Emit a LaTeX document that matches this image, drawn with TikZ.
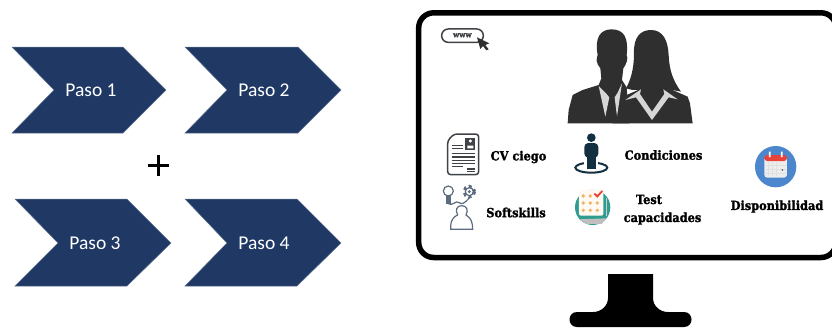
\documentclass[tikz,border=0pt]{standalone}
\usepackage{fontspec}
\setmainfont{Carlito}
\newfontfamily\slab{DejaVu Serif}[FakeStretch=0.9,BoldFeatures={FakeBold=1.6}]
\definecolor{navy}{HTML}{1F3864}
\definecolor{sil}{HTML}{2F2F2F}
\definecolor{sillight}{HTML}{D6D6D6}
\definecolor{icon}{HTML}{3F4347}
\definecolor{ink}{HTML}{12303F}
\definecolor{softi}{HTML}{5D6B80}
\definecolor{teal}{HTML}{2E9C8E}
\definecolor{calblue}{HTML}{4C86CC}
\definecolor{calred}{HTML}{E8423A}
\definecolor{tan}{HTML}{F2B45F}
\tikzset{
  chev/.style={fill=navy,draw=navy!70!white,line width=.5pt},
  pasolabel/.style={text=white,font=\fontsize{19.5}{22}\selectfont,inner sep=0pt},
  lab/.style={font=\slab\bfseries\fontsize{12.6}{14}\selectfont,inner sep=0pt,text=black,align=center},
  zoomA/.style={shift={(416,0)},x=.3333pt,y=-.3333pt},
  zoomB/.style={shift={(430,125)},x=.3333pt,y=-.3333pt},
  zoomC/.style={shift={(630,125)},x=.3333pt,y=-.3333pt},
}
\begin{document}
\begin{tikzpicture}[x=1pt,y=-1pt]
\useasboundingbox (0,0) rectangle (832,327);
% chevrons
\draw[chev] (12,47) -- (123,47) -- (166,90) -- (123,133) -- (12,133) -- (54,90) -- cycle;
\draw[chev] (185,47) -- (298,47) -- (341,90) -- (298,133) -- (185,133) -- (227,90) -- cycle;
\draw[chev] (15,199) -- (127,199) -- (171,243) -- (127,286) -- (15,286) -- (58,243) -- cycle;
\draw[chev] (185,199) -- (297,199) -- (341,243) -- (297,286) -- (185,286) -- (227,243) -- cycle;
\node[pasolabel] (p1) at (91,90.5) {Paso 1};
\node[pasolabel] (p2) at (264,90.5) {Paso 2};
\node[pasolabel] (p3) at (95,243) {Paso 3};
\node[pasolabel] (p4) at (264,243) {Paso 4};
% plus
\draw[line width=2.4pt,black] (148,165.5) -- (169,165.5) (158.5,155) -- (158.5,176);
% monitor
\begin{scope}
\clip (0,0) rectangle (832,327);
\draw[line width=5.5pt,black,rounded corners=15pt] (418.7,12.8) rectangle (836,257.5);
\end{scope}
% stand
\fill[black] (608,274) -- (653,274) -- (653,298) .. controls (653,306) and (660,312) .. (668,312)
  -- (684,312) .. controls (694,312) and (694,327) .. (684,327) -- (577,327)
  .. controls (567,327) and (567,312) .. (577,312) -- (593,312)
  .. controls (601,312) and (608,306) .. (608,298) -- cycle;
% people
\begin{scope}[zoomA]
 \fill[sil] (455,370) -- (458,330) -- (470,285) -- (500,270) -- (548,255) -- (556,235) -- (553,205)
   .. controls (540,190) and (540,175) .. (545,165)
   .. controls (535,110) and (555,88) .. (587,88)
   .. controls (625,88) and (638,115) .. (632,165)
   .. controls (638,175) and (630,195) .. (622,205) -- (618,240) -- (632,262) -- (640,370) -- cycle;
 \fill[sil] (590,370) -- (605,310) -- (632,285) -- (700,255) -- (770,270) -- (815,290) -- (822,310) -- (830,370) -- cycle;
 \fill[sil] (630,265) .. controls (650,230) and (654,190) .. (654,160)
   .. controls (652,110) and (675,90) .. (705,90)
   .. controls (740,90) and (756,120) .. (758,165)
   .. controls (760,210) and (770,240) .. (795,275) -- (770,270) -- (650,270) -- cycle;
 \fill[sillight] (548,258) -- (568,350) -- (580,292) -- (570,280) -- cycle;
 \fill[sillight] (618,250) -- (603,350) -- (596,292) -- (605,278) -- cycle;
 \fill[sil] (578,285) -- (595,285) -- (592,300) -- (602,350) -- (587,362) -- (573,350) -- (584,300) -- cycle;
 \fill[sillight] (628,300) -- (675,268) -- (672,282) -- (708,335) -- (745,282) -- (742,268) -- (785,298) -- (758,292) -- (708,360) -- (660,292) -- cycle;
 \draw[icon,line width=1.5pt,fill=white,rounded corners=6.5pt] (77,87) rectangle (202,127);
 \node[inner sep=0pt,font=\slab\bfseries\fontsize{8}{9}\selectfont,text=icon] (www) at (139,106) {www};
 \fill[sil] (183,112) -- (220,130) -- (208,135) -- (218,148) -- (211,151) -- (201,138) -- (193,147) -- cycle;
\end{scope}
% CV icon, person, softskills, test
\begin{scope}[zoomB]
 \draw[icon,line width=1.5pt,fill=white,rounded corners=3pt] (72,27) -- (146,27) -- (146,149) -- (53,149) -- (53,47) -- cycle;
 \fill[icon] (106,38) rectangle (136,74);
 \fill[white] (121,48) circle[radius=5] (112,70) rectangle (130,62);
 \draw[icon,line width=.9pt] (65,60) -- (98,60) (65,70) -- (98,70);
 \draw[icon,line width=1.5pt] (65,86) -- (136,86) (65,96) -- (136,96) (65,106) -- (136,106) (65,116) -- (136,116) (65,124) -- (100,124) (112,132) -- (136,132) (112,139) -- (136,139);
 % person on ring
 \draw[ink,line width=2pt] (484,128) ellipse[x radius=48,y radius=15];
 \fill[white] (463,105) rectangle (505,130);
 \fill[ink] (484,38) circle[radius=13];
 \fill[ink,rounded corners=4pt] (463,54) rectangle (505,98);
 \fill[ink] (470,90) rectangle (498,132);
 % softskills
 \begin{scope}[softi,line width=1.2pt]
  \draw (55,198) circle[radius=15];
  \draw (118,200) circle[radius=12];
  \fill[softi] (118,200) circle[radius=5];
  \draw[dash pattern=on 3pt off 3pt,line width=3pt] (118,200) circle[radius=16];
  \draw[fill=softi] (50,212) rectangle (60,234);
  \draw (55,236) .. controls (65,245) and (80,225) .. (85,232) .. controls (95,240) and (105,235) .. (118,218);
  \draw (95,242) .. controls (80,242) and (75,255) .. (83,270) .. controls (60,280) and (62,300) .. (62,313) -- (128,313) .. controls (128,295) and (125,280) .. (108,270) .. controls (116,255) and (110,242) .. (95,242);
 \end{scope}
 % test
 \fill[teal] (488,247) circle[radius=53];
 \fill[black!25] (447,283) -- (530,280) -- (515,297) -- (470,297) -- cycle;
 \fill[white!92!tan,rounded corners=2pt] (447,197) -- (520,190) -- (520,272) -- (447,272) -- cycle;
 \foreach \xx in {460,481,502} \foreach \yy in {213,234,256} \fill[tan] (\xx,\yy) circle[radius=5.5];
 \draw[calred,line width=1.8pt] (493,206) -- (502,214) -- (517,198);
 \draw[white!80!black,line width=1.6pt] (530,220) -- (530,272);
\end{scope}
% calendar
\begin{scope}[zoomC]
 \fill[calblue] (437,125) circle[radius=62];
 \fill[white!93!black,rounded corners=3pt] (403,95) rectangle (471,158);
 \fill[calred,rounded corners=3pt] (403,90) rectangle (471,108);
 \fill[white] (417,80) rectangle (422,96) (453,80) rectangle (458,96);
 \foreach \xx in {415,427,439} \draw[black!12,line width=.5pt] (\xx,112) -- (\xx,152);
 \foreach \yy in {122,134,146} \draw[black!12,line width=.5pt] (407,\yy) -- (467,\yy);
 \fill[black!60] (457,135) circle[radius=3];
\end{scope}
% labels
\node[lab] (cv) at (518.5,157) {CV ciego};
\node[lab] (cond) at (663.5,155) {Condiciones};
\node[lab] (soft) at (516,212.5) {Softskills};
\node[lab] (test) at (649,199.5) {Test};
\node[lab] (cap) at (662.5,218.5) {capacidades};
\node[lab] (disp) at (777,206.5) {Disponibilidad};
\end{tikzpicture}
\end{document}
